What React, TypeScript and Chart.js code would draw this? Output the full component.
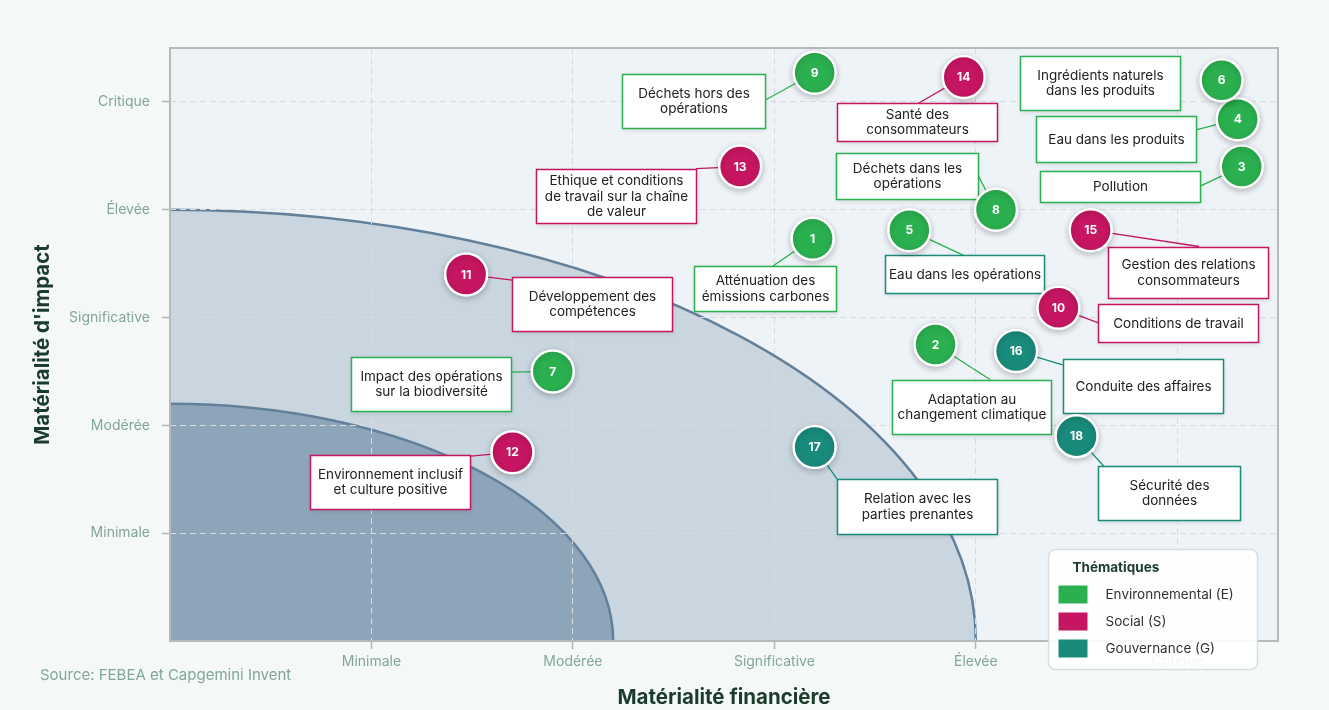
import React, { useEffect, useRef } from "react";
import { Chart, registerables } from "chart.js";

Chart.register(...registerables);

// ---- Data ----
const levelValues = [1, 2, 3, 4, 5];
const levelLabels = ["Minimale", "Modérée", "Significative", "Élevée", "Critique"];

const topicIds = [1, 2, 3, 4, 5, 6, 7, 8, 9, 10, 11, 12, 13, 14, 15, 16, 17, 18];
const topicNames = [
  "Atténuation des\némissions carbones",
  "Adaptation au\nchangement climatique",
  "Pollution",
  "Eau dans les produits",
  "Eau dans les opérations",
  "Ingrédients naturels\ndans les produits",
  "Impact des opérations\nsur la biodiversité",
  "Déchets dans les\nopérations",
  "Déchets hors des\nopérations",
  "Conditions de travail",
  "Développement des\ncompétences",
  "Environnement inclusif\net culture positive",
  "Ethique et conditions\nde travail sur la chaîne\nde valeur",
  "Santé des\nconsommateurs",
  "Gestion des relations\nconsommateurs",
  "Conduite des affaires",
  "Relation avec les\nparties prenantes",
  "Sécurité des\ndonnées",
];
const topicTheme = ["E", "E", "E", "E", "E", "E", "E", "E", "E", "S", "S", "S", "S", "S", "S", "G", "G", "G"];
const financialValues = [3.19, 3.8, 5.32, 5.3, 3.67, 5.22, 1.9, 4.1, 3.2, 4.41, 1.47, 1.7, 2.83, 3.94, 4.57, 4.2, 3.2, 4.5];
const impactValues = [3.73, 2.75, 4.4, 4.84, 3.81, 5.2, 2.5, 4.0, 5.27, 3.09, 3.4, 1.75, 4.4, 5.23, 3.81, 2.69, 1.8, 1.9];

const zoneRadii = [4, 2.2];

const themeKeys = ["E", "S", "G"];
const themeNames = ["Environnemental (E)", "Social (S)", "Gouvernance (G)"];
const themeColors = ["#2bb050", "#c61662", "#198b7b"];

// ---- Layout of callout boxes (px, relative to the point): dx, dy, w, h, anchorX, anchorY (relative to box centre) ----
const calloutLayout: (number | null)[][] = [
  [-48, 50, 142, 45, 8, -22.5],
  [35.5, 62, 159, 54, 19, -27],
  [-121.6, 19.6, 160, 31, 80, 0],
  [-121.6, 20.2, 160, 46, 80, -9.5],
  [55.3, 44.2, 159, 38, -1, -19],
  [-121.7, 2.5, 160, 54, null, null],
  [-121.3, 12.3, 160, 54, 80, -11.7],
  [-88.7, -34, 142, 46, 71, 0],
  [-121.6, 28.7, 143, 54, 71.5, -1],
  [120, 15, 160, 38, -80, 0],
  [126.3, 29.7, 160, 54, -80, -24],
  [-122, 29.9, 160, 54, 80, -26],
  [-124, 29, 160, 54, 80, -27],
  [-47, 45.2, 160, 38, 1.7, -19],
  [97, 41.8, 160, 51, 11.4, -25.5],
  [126.5, 34.8, 160, 54, -80, -21],
  [102.4, 59.8, 160, 55, -80, -27.5],
  [92.1, 56.8, 142, 54, -65, -27],
];
const calloutBorderOverride: Record<number, string> = { 5: "G" };

const FONT = "Inter, 'DejaVu Sans', sans-serif";
const TICK_COLOR = "#82a796";
const TITLE_COLOR = "#1b3b2d";

function themeColor(key: string) {
  return themeColors[themeKeys.indexOf(key)];
}

const matrixPlugin = {
  id: "matrixPlugin",
  beforeDraw(chart: any) {
    const { ctx, chartArea: ca, scales } = chart;
    ctx.save();
    ctx.fillStyle = "#f4f8f7";
    ctx.fillRect(0, 0, chart.width, chart.height);
    ctx.fillStyle = "#eef3f8";
    ctx.fillRect(ca.left, ca.top, ca.right - ca.left, ca.bottom - ca.top);
    const x0 = scales.x.getPixelForValue(0);
    const y0 = scales.y.getPixelForValue(0);
    const fills = ["#c9d6e0", "#8ea5b9"];
    zoneRadii.forEach((r, i) => {
      const rx = scales.x.getPixelForValue(r) - x0;
      const ry = y0 - scales.y.getPixelForValue(r);
      ctx.beginPath();
      ctx.moveTo(x0, y0);
      ctx.ellipse(x0, y0, rx, ry, 0, -Math.PI / 2, 0);
      ctx.closePath();
      ctx.fillStyle = fills[i];
      ctx.fill();
      ctx.beginPath();
      ctx.ellipse(x0, y0, rx, ry, 0, -Math.PI / 2, 0);
      ctx.strokeStyle = "#63809a";
      ctx.lineWidth = 2.5;
      ctx.stroke();
    });
    ctx.restore();
  },
  beforeDatasetsDraw(chart: any) {
    const { ctx, chartArea: ca } = chart;
    ctx.save();
    // plot border
    ctx.strokeStyle = "#b7b9ba";
    ctx.lineWidth = 2;
    ctx.strokeRect(ca.left, ca.top, ca.right - ca.left, ca.bottom - ca.top);

    const positions: Record<number, { x: number; y: number }> = {};
    chart.data.datasets.forEach((ds: any, di: number) => {
      const meta = chart.getDatasetMeta(di);
      meta.data.forEach((el: any, j: number) => {
        positions[ds.ids[j]] = { x: el.x, y: el.y };
      });
    });

    // connectors
    topicIds.forEach((id, i) => {
      const p = positions[id];
      const [dx, dy, , , ax, ay] = calloutLayout[i];
      if (ax === null || ay === null) return;
      const bx = p.x + (dx as number);
      const by = p.y + (dy as number);
      ctx.beginPath();
      ctx.moveTo(p.x, p.y);
      ctx.lineTo(bx + ax, by + ay);
      ctx.strokeStyle = themeColor(topicTheme[i]);
      ctx.lineWidth = 1.3;
      ctx.stroke();
    });

    // boxes
    topicIds.forEach((id, i) => {
      const p = positions[id];
      const [dx, dy, w, h] = calloutLayout[i] as number[];
      const left = Math.round(p.x + dx - w / 2) + 0.5;
      const top = Math.round(p.y + dy - h / 2) + 0.5;
      ctx.save();
      ctx.shadowColor = "rgba(0,0,0,0.14)";
      ctx.shadowBlur = 5;
      ctx.shadowOffsetY = 1.5;
      ctx.fillStyle = "#ffffff";
      ctx.fillRect(left, top, w, h);
      ctx.restore();
      ctx.strokeStyle = themeColor(calloutBorderOverride[id] || topicTheme[i]);
      ctx.lineWidth = 1.5;
      ctx.strokeRect(left, top, w, h);
      const lines = topicNames[i].split("\n");
      ctx.fillStyle = "#222222";
      ctx.font = `13.5px ${FONT}`;
      ctx.textAlign = "center";
      ctx.textBaseline = "middle";
      const lh = 15.8;
      const cy = top + h / 2;
      lines.forEach((ln, k) => {
        ctx.fillText(ln, left + w / 2, cy + (k - (lines.length - 1) / 2) * lh);
      });
    });
    ctx.restore();

    // shadow for the points
    ctx.save();
    ctx.shadowColor = "rgba(0,0,0,0.22)";
    ctx.shadowBlur = 6;
    ctx.shadowOffsetY = 2;
  },
  afterDatasetsDraw(chart: any) {
    const { ctx } = chart;
    ctx.restore();
    ctx.save();
    ctx.fillStyle = "#ffffff";
    ctx.font = `bold 12px ${FONT}`;
    ctx.textAlign = "center";
    ctx.textBaseline = "middle";
    chart.data.datasets.forEach((ds: any, di: number) => {
      const meta = chart.getDatasetMeta(di);
      meta.data.forEach((el: any, j: number) => {
        ctx.fillText(String(ds.ids[j]), el.x, el.y + 0.5);
      });
    });
    ctx.restore();
  },
  afterDraw(chart: any) {
    const { ctx, chartArea: ca } = chart;
    ctx.save();
    // legend
    const lx = ca.right - 229.5;
    const ly = ca.bottom - 91.5;
    const lw = 209;
    const lh = 120;
    ctx.beginPath();
    ctx.roundRect(lx, ly, lw, lh, 7);
    ctx.fillStyle = "rgba(255,255,255,0.9)";
    ctx.fill();
    ctx.strokeStyle = "#d9dde0";
    ctx.lineWidth = 1.5;
    ctx.stroke();
    ctx.fillStyle = TITLE_COLOR;
    ctx.font = `bold 13.5px ${FONT}`;
    ctx.textAlign = "left";
    ctx.textBaseline = "middle";
    ctx.fillText("Thématiques", lx + 24, ly + 18);
    themeNames.forEach((name, i) => {
      const yy = ly + 45 + i * 27;
      ctx.fillStyle = themeColors[i];
      ctx.fillRect(lx + 10, yy - 9, 29, 18);
      ctx.fillStyle = "#333333";
      ctx.font = `13.5px ${FONT}`;
      ctx.fillText(name, lx + 57, yy);
    });
    // source
    ctx.fillStyle = TICK_COLOR;
    ctx.font = `15px ${FONT}`;
    ctx.textAlign = "left";
    ctx.textBaseline = "middle";
    ctx.fillText("Source: FEBEA et Capgemini Invent", 40, 675);
    ctx.restore();
  },
};

const tickCallback = (v: any) => {
  const idx = levelValues.indexOf(Number(v));
  return idx >= 0 ? levelLabels[idx] : "";
};

export default function App() {
  const canvasRef = useRef<HTMLCanvasElement | null>(null);

  useEffect(() => {
    if (!canvasRef.current) return;
    const datasets = themeKeys.map((key, ti) => {
      const idx = topicIds.map((_, i) => i).filter((i) => topicTheme[i] === key);
      return {
        label: themeNames[ti],
        ids: idx.map((i) => topicIds[i]),
        data: idx.map((i) => ({ x: financialValues[i], y: impactValues[i] })),
        backgroundColor: themeColors[ti],
        borderColor: "#ffffff",
        borderWidth: 2.5,
        pointRadius: 21,
        pointHoverRadius: 21,
        clip: false as any,
      };
    });

    const chart = new Chart(canvasRef.current, {
      type: "scatter",
      data: { datasets: datasets as any },
      options: {
        animation: false,
        responsive: false,
        devicePixelRatio: 1,
        events: [],
        layout: { padding: { top: 48, right: 51, left: 0, bottom: 0 } },
        plugins: { legend: { display: false }, tooltip: { enabled: false } },
        scales: {
          x: {
            type: "linear",
            min: 0,
            max: 5.5,
            afterBuildTicks: (s: any) => {
              s.ticks = levelValues.map((v) => ({ value: v }));
            },
            afterFit: (s: any) => {
              s.height = 69;
            },
            ticks: {
              callback: tickCallback,
              color: TICK_COLOR,
              font: { family: FONT, size: 14 },
              padding: 4,
              autoSkip: false,
              maxRotation: 0,
            },
            grid: { color: "#d8dadc", lineWidth: 1, tickColor: "#b3b5b6", tickLength: 8, tickWidth: 1.5 },
            border: { display: false, dash: [6, 4] },
            title: {
              display: true,
              text: "Matérialité financière",
              color: TITLE_COLOR,
              font: { family: FONT, size: 20.5, weight: "bold" },
              padding: { top: 0, bottom: 0 },
            },
          },
          y: {
            type: "linear",
            min: 0,
            max: 5.5,
            afterBuildTicks: (s: any) => {
              s.ticks = levelValues.map((v) => ({ value: v }));
            },
            afterFit: (s: any) => {
              s.width = 170;
            },
            ticks: {
              callback: tickCallback,
              color: TICK_COLOR,
              font: { family: FONT, size: 14 },
              padding: 12,
              autoSkip: false,
            },
            grid: { color: "#d8dadc", lineWidth: 1, tickColor: "#b3b5b6", tickLength: 8, tickWidth: 1.5 },
            border: { display: false, dash: [6, 4] },
            title: {
              display: true,
              text: "Matérialité d'impact",
              color: TITLE_COLOR,
              font: { family: FONT, size: 20.5, weight: "bold" },
              padding: { top: 31, bottom: 0 },
            },
          },
        },
      } as any,
      plugins: [matrixPlugin as any],
    });
    return () => chart.destroy();
  }, []);

  return (
    <div style={{ position: "fixed", left: 0, top: 0, width: 1329, height: 710, background: "#f4f8f7" }}>
      <canvas ref={canvasRef} width={1329} height={710} style={{ display: "block" }} />
    </div>
  );
}
